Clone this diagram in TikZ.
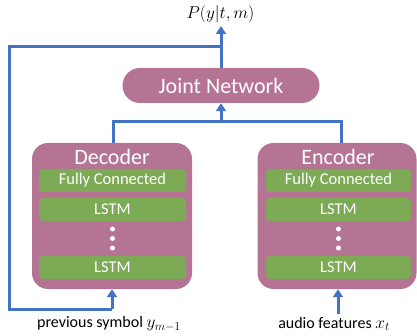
\documentclass[tikz,border=0pt]{standalone}
\usepackage{fontspec}
\setmainfont{Carlito}
\usetikzlibrary{arrows.meta}
\definecolor{pinkbox}{HTML}{B57493}
\definecolor{greenbox}{HTML}{7DAB55}
\definecolor{bluel}{HTML}{4472C4}
\newcommand{\mth}[1]{{\fontsize{18}{20}\selectfont$#1$}}
\tikzset{
  outer/.style={fill=pinkbox, draw=none, inner sep=0pt},
  layer/.style={fill=greenbox, draw=none, rounded corners=4pt, minimum height=23pt, inner sep=0pt, text=white, font=\fontsize{16.5}{18}\selectfont},
  title/.style={text=white, font=\fontsize{22}{24}\selectfont, inner sep=0pt},
  wire/.style={draw=bluel, line width=3pt},
  arrow/.style={wire, -{Triangle[width=10pt,length=8pt]}},
  lbl/.style={font=\fontsize{16}{18}\selectfont, inner sep=0pt},
  dot/.style={circle, fill=white, minimum size=5pt, inner sep=0pt}
}
\begin{document}
\begin{tikzpicture}[x=1pt,y=-1pt]
\useasboundingbox (0,0) rectangle (417,336);
% joint network
\node[outer, rounded corners=17.5pt, minimum width=197pt, minimum height=35pt] (joint) at (221,85.5) {};
\node[title] (jt) at (221,86) {Joint Network};
% decoder
\node[outer, rounded corners=16pt, minimum width=160pt, minimum height=146pt] (dec) at (112,216) {};
\node[title] (dect) at (112,157) {Decoder};
\node[layer, minimum width=147pt] (dfc) at (112.5,180.5) {Fully Connected};
\node[layer, minimum width=147pt] (dl1) at (112.5,209.5) {LSTM};
\node[dot] (dd1) at (112.5,229) {};
\node[dot] (dd2) at (112.5,238.5) {};
\node[dot] (dd3) at (112.5,248) {};
\node[layer, minimum width=147pt] (dl2) at (112.5,267.5) {LSTM};
% encoder
\node[outer, rounded corners=16pt, minimum width=159pt, minimum height=146pt] (enc) at (337,216) {};
\node[title] (enct) at (338,157) {Encoder};
\node[layer, minimum width=145pt] (efc) at (338.5,180.5) {Fully Connected};
\node[layer, minimum width=145pt] (el1) at (338.5,209.5) {LSTM};
\node[dot] (ed1) at (338.5,229) {};
\node[dot] (ed2) at (338.5,238.5) {};
\node[dot] (ed3) at (338.5,248) {};
\node[layer, minimum width=145pt] (el2) at (338.5,267.5) {LSTM};
% labels
\node[lbl] (out) at (220.5,14) {\mth{P(y|t,m)}};
\node[lbl] (prev) at (109,324) {previous symbol \mth{y_{m-1}}};
\node[lbl] (audio) at (334,324) {audio features \mth{x_t}};
% coordinates
\coordinate (jtop) at (221,47);
\coordinate (tip) at (221,26);
\coordinate (loopTL) at (9.5,47);
\coordinate (loopBL) at (9.5,309);
\coordinate (dinx) at (112,309);
\coordinate (jbot) at (221,122);
\coordinate (dtop) at (113,122);
\coordinate (etop) at (341,122);
\coordinate (ein) at (338,314);
% connectors
\draw[arrow] (joint.north -| jtop) -- (tip);
\draw[wire, line join=miter] (jtop) -- (loopTL) -- (loopBL) -- (dinx);
\draw[arrow] (dinx) -- (dinx |- dec.south);
\draw[wire, line join=miter] (dtop |- dec.north) -- (dtop) -- (etop) -- (etop |- enc.north);
\draw[arrow] (jbot) -- (joint.south -| jbot);
\draw[arrow] (ein) -- (ein |- enc.south);
\end{tikzpicture}
\end{document}
